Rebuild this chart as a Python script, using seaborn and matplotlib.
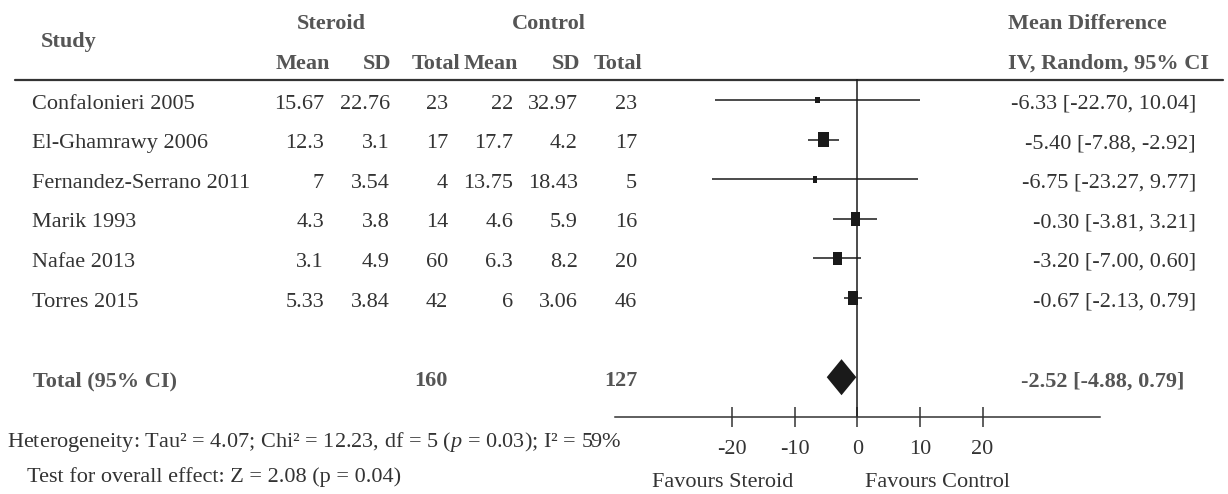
import seaborn as sns
import matplotlib.pyplot as plt
import numpy as np
import pandas as pd

# ============================================= #
# DATA
# ============================================= #

studies = ['Confalonieri 2005', 'El-Ghamrawy 2006', 'Fernandez-Serrano 2011',
           'Marik 1993', 'Nafae 2013', 'Torres 2015']
ster_mean = [15.67, 12.3, 7, 4.3, 3.1, 5.33]
ster_sd = [22.76, 3.1, 3.54, 3.8, 4.9, 3.84]
ster_n = [23, 17, 4, 14, 60, 42]
ctrl_mean = [22, 17.7, 13.75, 4.6, 6.3, 6]
ctrl_sd = [32.97, 4.2, 18.43, 5.9, 8.2, 3.06]
ctrl_n = [23, 17, 5, 16, 20, 46]
md = [-6.33, -5.40, -6.75, -0.30, -3.20, -0.67]
md_lo = [-22.70, -7.88, -23.27, -3.81, -7.00, -2.13]
md_hi = [10.04, -2.92, 9.77, 3.21, 0.60, 0.79]
weights = [4.4, 26.9, 5.2, 22.0, 19.0, 22.5]  # estimated from the square sizes

total_ster, total_ctrl = 160, 127
pooled, pooled_lo, pooled_hi = -2.52, -4.88, 0.79
pooled_hi_drawn = -0.16  # diamond tip as drawn in the picture
xticks = [-20, -10, 0, 10, 20]

heterogeneity = 'Heterogeneity: Tau\u00b2 = 4.07; Chi\u00b2 = 12.23, df = 5 ($p$ = 0.03); I\u00b2 = 59%'
overall = 'Test for overall effect: Z = 2.08 (p = 0.04)'

# ============================================= #
# STYLE
# ============================================= #

sns.set_style('white')
plt.rcParams['font.family'] = ['Liberation Serif', 'DejaVu Serif']
plt.rcParams['mathtext.fontset'] = 'custom'
plt.rcParams['mathtext.rm'] = 'Liberation Serif'
plt.rcParams['mathtext.it'] = 'Liberation Serif:italic'

txt_col = '#333333'
bold_col = '#555555'
ink = '#1a1a1a'
fs = 16

W, H = 1228, 494
fig = plt.figure(figsize=(W / 100, H / 100), dpi=100)

# text layer in pixel coordinates
tx = fig.add_axes([0, 0, 1, 1])
tx.set_xlim(0, W)
tx.set_ylim(H, 0)
tx.axis('off')

row0, row_h = 100, 39.6
total_row = len(studies) + 1


def row_px(r):
    return row0 + row_h * r + 4


def put(x, y, s, ha='left', bold=False, **kw):
    tx.text(x, y, s, ha=ha, va='center', fontsize=fs,
            fontweight='bold' if bold else 'normal',
            color=bold_col if bold else txt_col, **kw)


# ============================================= #
# TABLE HEADER
# ============================================= #

put(41, 42, 'Study', bold=True)
put(331, 24, 'Steroid', ha='center', bold=True)
put(549, 24, 'Control', ha='center', bold=True)
put(1008, 24, 'Mean Difference', bold=True)
put(1008, 64, 'IV, Random, 95% CI', bold=True)
for xr, lab in zip([330, 391, 460, 518, 580, 642],
                   ['Mean', 'SD', 'Total', 'Mean', 'SD', 'Total']):
    put(xr, 64, lab, ha='right', bold=True)
tx.plot([15, 1223], [80, 80], color='#333333', lw=1.6)

# ============================================= #
# STUDY ROWS
# ============================================= #

col_right = [324, 390, 448, 513, 578, 637]
for i, name in enumerate(studies):
    y = row_px(i)
    put(32, y, name)
    vals = [ster_mean[i], ster_sd[i], ster_n[i], ctrl_mean[i], ctrl_sd[i], ctrl_n[i]]
    for xr, v in zip(col_right, vals):
        put(xr, y, '%g' % v, ha='right')
    put(1196, y, '%.2f [%.2f, %.2f]' % (md[i], md_lo[i], md_hi[i]), ha='right')

y = row_px(total_row)
put(33, y, 'Total (95% CI)', bold=True)
put(448, y, str(total_ster), ha='right', bold=True)
put(637, y, str(total_ctrl), ha='right', bold=True)
put(1184, y, '%.2f [%.2f, %.2f]' % (pooled, pooled_lo, pooled_hi), ha='right', bold=True)

put(7, 442, heterogeneity)
put(27, 477, overall)
put(793, 482, 'Favours Steroid', ha='right')
put(865, 482, 'Favours Control')

# ============================================= #
# FOREST PLOT
# ============================================= #

x0_px, px_per_unit = 857.3, 6.26
left_px, right_px, top_px, bot_px = 615, 1100, 79, 417
ax = fig.add_axes([left_px / W, 1 - bot_px / H, (right_px - left_px) / W, (bot_px - top_px) / H])
ax.patch.set_alpha(0)
ax.set_xlim((left_px - x0_px) / px_per_unit, (right_px - x0_px) / px_per_unit)
ax.set_ylim((bot_px - row0) / row_h, (top_px - row0) / row_h)

df = pd.DataFrame({'md': md, 'lo': md_lo, 'hi': md_hi, 'weight': weights,
                   'row': np.arange(len(studies))})

ax.axvline(0, color=ink, lw=1.1, zorder=1)
ax.hlines(df['row'], df['lo'], df['hi'], color=ink, lw=1.1, zorder=2)

# rectangular markers (the squares are a bit taller than wide in the original)
box = [(-0.69, -1), (0.69, -1), (0.69, 1), (-0.69, 1), (-0.69, -1)]
wmax = max(weights)
sns.scatterplot(data=df, x='md', y='row', size='weight', sizes=(0, 4.78 * wmax),
                size_norm=(0, wmax), marker=box, color=ink, linewidth=0,
                legend=False, ax=ax, zorder=3)

# pooled diamond
dh = 0.455
ax.fill([pooled_lo, pooled, pooled_hi_drawn, pooled],
        [total_row, total_row - dh, total_row, total_row + dh], color=ink, lw=0, zorder=3)

ax.set_xticks(xticks)
ax.set_xticklabels([str(t) for t in xticks])
ax.set_yticks([])
ax.set(xlabel='', ylabel='')
for side in ['top', 'left', 'right']:
    ax.spines[side].set_visible(False)
ax.spines['bottom'].set_color('#333333')
ax.spines['bottom'].set_linewidth(1.1)
ax.tick_params(axis='x', direction='inout', length=14.4, width=1.1, color='#333333',
               pad=9, labelsize=fs, labelcolor=txt_col, bottom=True)

fig.savefig('out.png', dpi=100)
